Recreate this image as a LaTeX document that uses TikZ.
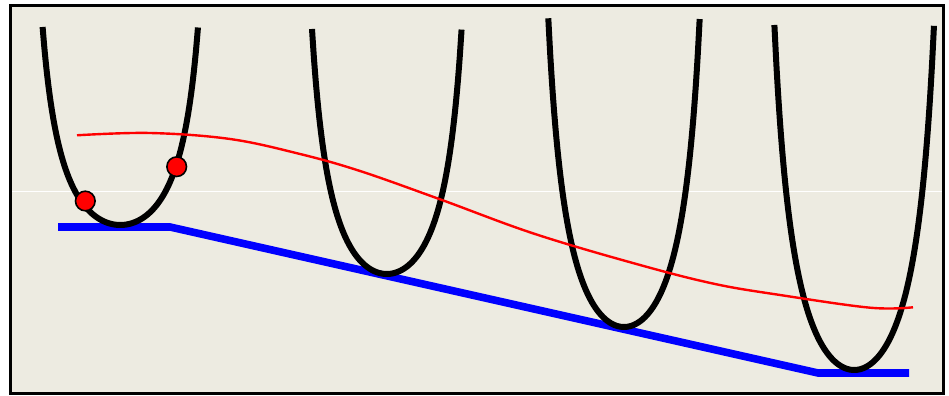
\documentclass[tikz,border=0pt]{standalone}
\usepackage{tikz}
\definecolor{panelbeige}{HTML}{EDEBE1}
\definecolor{floorblue}{HTML}{0000FF}
\definecolor{pathred}{HTML}{FF0000}
\tikzset{
  bowlline/.style={black,line width=1.5mm,line join=round},
  floorline/.style={floorblue,line width=1.9mm,line join=miter},
  trackline/.style={pathred,line width=0.6mm},
  ball/.style={circle,fill=pathred,draw=black,line width=0.4mm,minimum size=4.9mm,inner sep=0pt}
}
\newcommand{\bowl}[4]{%
  \draw[bowlline] plot[domain=-1:1,samples=81,smooth]
    ({#1+#2*\x},{#3+(#4-#3)*0.4*\x*\x/(1-0.6*\x*\x)});
}

\begin{document}
\begin{tikzpicture}[x=0.25mm,y=0.25mm]
  \useasboundingbox (0,0) rectangle (949,396);

  \fill[white] (0,0) rectangle (949,396);
  \fill[panelbeige] (10.7,2.2) rectangle (943.7,390.7);
  \draw[white,line width=0.25mm] (10.7,204.5) -- (943.7,204.5);

  \draw[floorline] (58,169) -- (170,169) -- (818,23) -- (909,23);

  \bowl{120.3}{77.7}{171}{369}
  \bowl{386.8}{74.8}{122}{367}
  \bowl{624.0}{75.7}{69}{377.7}
  \bowl{854.2}{79.8}{26}{371}

  \draw[trackline] plot[smooth,tension=0.6] coordinates {
    (77,260.7) (150,263) (230,257) (300,242) (360,225) (440,196.7)
    (535,162) (640,131) (715,112) (780,101) (870,88.3) (913,88.7)};

  \node[ball] (leftball) at (85.3,195) {};
  \node[ball] (rightball) at (176.7,229.3) {};

  \draw[black,line width=0.75mm] (10.7,2.2) rectangle (943.7,390.7);
\end{tikzpicture}
\end{document}
